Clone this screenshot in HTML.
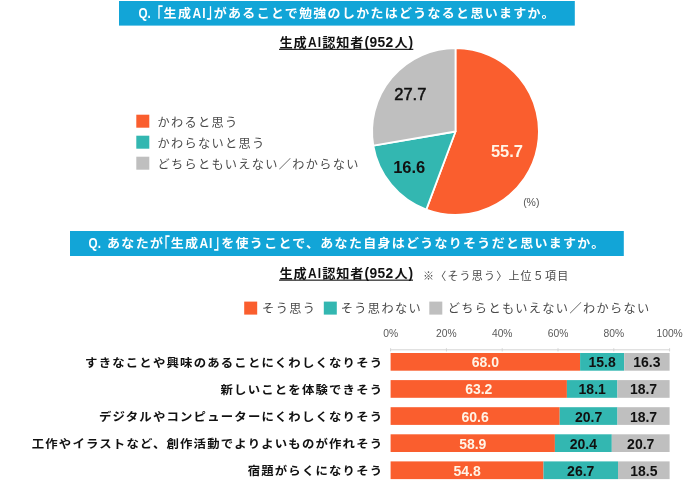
<!DOCTYPE html>
<html lang="ja"><head><meta charset="utf-8"><title>生成AIアンケート</title>
<style>html,body{margin:0;padding:0;background:#fff}body{width:700px;height:488px;overflow:hidden;position:relative}svg{display:block;position:absolute;left:0;top:0}text{font-family:"Liberation Sans","Noto Sans CJK JP",sans-serif;white-space:pre}.b{font-weight:700}.l{font-weight:300}.r{font-weight:400}.m{font-weight:500}.sk{stroke:#111;stroke-width:.25px}.sb{stroke:#111;stroke-width:.5px}</style></head><body>
<svg width="700" height="488" viewBox="0 0 700 488">
<rect x="119" y="1" width="455.8" height="24.6" fill="#12A5D7"/>
<g>
<text class="b" transform="translate(138.40,17.70) scale(0.78,0.99)" font-size="15" fill="#fff">Q.</text>
<text class="m" transform="translate(150.00,22.50) scale(1,1.55)" font-size="13.0" fill="#fff">「</text>
<text class="b" transform="translate(163.60,17.70) scale(1,0.95)" font-size="13.0" fill="#fff" letter-spacing="1.3">生成</text>
<text class="b" transform="translate(192.50,17.70) scale(0.8,0.99)" font-size="15" fill="#fff" letter-spacing="1.2">AI</text>
<text class="m" transform="translate(206.40,18.10) scale(1,1.55)" font-size="13.0" fill="#fff">」</text>
<text class="b" transform="translate(213.80,17.70) scale(1,0.95)" font-size="13.0" fill="#fff" letter-spacing="1.3">があることで勉強のしかたはどうなると思いますか。</text>
</g>
<g>
<text class="b" transform="translate(279.60,47.30) scale(1,0.95)" font-size="13.2" fill="#111" letter-spacing="0.8">生成</text>
<text class="b" transform="translate(307.90,47.30) scale(0.78,1)" font-size="15.3" fill="#111" letter-spacing="1.6">AI</text>
<text class="b" transform="translate(322.30,47.30) scale(1,0.95)" font-size="13.2" fill="#111" letter-spacing="0.8">認知者</text>
<text class="b" transform="translate(364.40,47.30) scale(0.92,0.97)" font-size="15" fill="#111" letter-spacing="0.45">(952</text>
<text class="b" transform="translate(394.50,47.30) scale(1,0.95)" font-size="13.2" fill="#111">人</text>
<text class="b" transform="translate(408.60,47.30) scale(0.92,0.97)" font-size="15" fill="#111">)</text>
</g>
<rect x="279" y="48.8" width="134.3" height="1.1" fill="#111"/>
<path d="M455.5,131.5 L455.50,48.10 A83.4,83.4 0 1 1 426.27,209.61 Z" fill="#FA5E2E" stroke="#fff" stroke-width="1.8" stroke-linejoin="round"/>
<path d="M455.5,131.5 L426.27,209.61 A83.4,83.4 0 0 1 373.30,145.58 Z" fill="#33B7B1" stroke="#fff" stroke-width="1.8" stroke-linejoin="round"/>
<path d="M455.5,131.5 L373.30,145.58 A83.4,83.4 0 0 1 455.50,48.10 Z" fill="#BFBFBF" stroke="#fff" stroke-width="1.8" stroke-linejoin="round"/>
<text class="b" transform="translate(507.00,157.30)" font-size="16.5" fill="#FFF4E6" text-anchor="middle">55.7</text>
<text class="b" transform="translate(409.20,172.60)" font-size="16.5" fill="#111" text-anchor="middle">16.6</text>
<text class="sb" transform="translate(410.30,100.00)" font-size="16.5" fill="#111" text-anchor="middle">27.7</text>
<text transform="translate(531.30,205.80)" font-size="10.5" fill="#555" text-anchor="middle">(%)</text>
<rect x="136.3" y="114.7" width="13" height="13" fill="#FA5E2E"/>
<text class="r" transform="translate(157.60,126.80)" font-size="12.2" fill="#4a4a4a" letter-spacing="1.3">かわると思う</text>
<rect x="136.3" y="135.7" width="13" height="13" fill="#33B7B1"/>
<text class="r" transform="translate(157.60,147.80)" font-size="12.2" fill="#4a4a4a" letter-spacing="1.3">かわらないと思う</text>
<rect x="136.3" y="156.7" width="13" height="13" fill="#BFBFBF"/>
<text class="r" transform="translate(157.60,168.80)" font-size="12.2" fill="#4a4a4a" letter-spacing="1.3">どちらともいえない／わからない</text>
<rect x="70" y="231" width="553.8" height="25" fill="#12A5D7"/>
<g>
<text class="b" transform="translate(88.60,248.10) scale(0.78,0.99)" font-size="15" fill="#fff">Q.</text>
<text class="b" transform="translate(106.90,248.10) scale(1,0.95)" font-size="13.0" fill="#fff" letter-spacing="1.4000000000000001">あなたが</text>
<text class="m" transform="translate(157.00,252.90) scale(1,1.55)" font-size="13.0" fill="#fff">「</text>
<text class="b" transform="translate(170.70,248.10) scale(1,0.95)" font-size="13.0" fill="#fff" letter-spacing="1.3">生成</text>
<text class="b" transform="translate(199.40,248.10) scale(0.8,0.99)" font-size="15" fill="#fff" letter-spacing="1.2">AI</text>
<text class="m" transform="translate(213.70,248.50) scale(1,1.55)" font-size="13.0" fill="#fff">」</text>
<text class="b" transform="translate(221.30,248.10) scale(1,0.95)" font-size="13.0" fill="#fff" letter-spacing="1.3">を使うことで、あなた自身はどうなりそうだと思いますか。</text>
</g>
<g>
<text class="b" transform="translate(279.60,278.10) scale(1,0.95)" font-size="13.2" fill="#111" letter-spacing="0.8">生成</text>
<text class="b" transform="translate(307.90,278.10) scale(0.78,1)" font-size="15.3" fill="#111" letter-spacing="1.6">AI</text>
<text class="b" transform="translate(322.30,278.10) scale(1,0.95)" font-size="13.2" fill="#111" letter-spacing="0.8">認知者</text>
<text class="b" transform="translate(364.40,278.10) scale(0.92,0.97)" font-size="15" fill="#111" letter-spacing="0.45">(952</text>
<text class="b" transform="translate(394.50,278.10) scale(1,0.95)" font-size="13.2" fill="#111">人</text>
<text class="b" transform="translate(408.60,278.10) scale(0.92,0.97)" font-size="15" fill="#111">)</text>
</g>
<rect x="279" y="279.6" width="134" height="1.1" fill="#111"/>
<text class="r" transform="translate(423.00,280.20)" font-size="11" fill="#4a4a4a" letter-spacing="1.2">※〈そう思う〉上位５項目</text>
<rect x="244.2" y="301.6" width="13" height="13" fill="#FA5E2E"/>
<text class="r" transform="translate(262.10,312.80)" font-size="12.2" fill="#4a4a4a" letter-spacing="1.35">そう思う</text>
<rect x="323.8" y="301.6" width="13" height="13" fill="#33B7B1"/>
<text class="r" transform="translate(340.80,312.80)" font-size="12.2" fill="#4a4a4a" letter-spacing="1.35">そう思わない</text>
<rect x="429.3" y="301.6" width="13" height="13" fill="#BFBFBF"/>
<text class="r" transform="translate(447.80,312.80)" font-size="12.2" fill="#4a4a4a" letter-spacing="1.35">どちらともいえない／わからない</text>
<text transform="translate(390.60,337.20)" font-size="10.3" fill="#595959" text-anchor="middle">0%</text>
<rect x="390.1" y="348.2" width="1" height="3.2" fill="#D4D4D4"/>
<text transform="translate(446.40,337.20)" font-size="10.3" fill="#595959" text-anchor="middle">20%</text>
<rect x="445.9" y="348.2" width="1" height="3.2" fill="#D4D4D4"/>
<text transform="translate(502.20,337.20)" font-size="10.3" fill="#595959" text-anchor="middle">40%</text>
<rect x="501.7" y="348.2" width="1" height="3.2" fill="#D4D4D4"/>
<text transform="translate(558.00,337.20)" font-size="10.3" fill="#595959" text-anchor="middle">60%</text>
<rect x="557.5" y="348.2" width="1" height="3.2" fill="#D4D4D4"/>
<text transform="translate(613.80,337.20)" font-size="10.3" fill="#595959" text-anchor="middle">80%</text>
<rect x="613.3" y="348.2" width="1" height="3.2" fill="#D4D4D4"/>
<text transform="translate(669.60,337.20)" font-size="10.3" fill="#595959" text-anchor="middle">100%</text>
<rect x="669.1" y="348.2" width="1" height="3.2" fill="#D4D4D4"/>
<rect x="390.6" y="349.3" width="279.0" height="1" fill="#D4D4D4"/>
<rect x="390.6" y="353.0" width="189.5" height="17.7" fill="#FA5E2E"/>
<rect x="580.1" y="353.0" width="44.0" height="17.7" fill="#33B7B1"/>
<rect x="624.2" y="353.0" width="45.4" height="17.7" fill="#BFBFBF"/>
<text class="b" transform="translate(485.37,367.30)" font-size="14" fill="#FFF4E6" text-anchor="middle">68.0</text>
<text class="b" transform="translate(602.15,367.30)" font-size="14" fill="#111" text-anchor="middle">15.8</text>
<text class="b" transform="translate(646.88,367.30)" font-size="14" fill="#111" text-anchor="middle">16.3</text>
<text class="b" transform="translate(383.30,366.70) scale(1,0.96)" font-size="12.4" fill="#111" text-anchor="end" letter-spacing="1.18">すきなことや興味のあることにくわしくなりそう</text>
<rect x="390.6" y="380.1" width="176.3" height="17.7" fill="#FA5E2E"/>
<rect x="566.9" y="380.1" width="50.5" height="17.7" fill="#33B7B1"/>
<rect x="617.4" y="380.1" width="52.2" height="17.7" fill="#BFBFBF"/>
<text class="b" transform="translate(478.76,394.40)" font-size="14" fill="#FFF4E6" text-anchor="middle">63.2</text>
<text class="b" transform="translate(592.18,394.40)" font-size="14" fill="#111" text-anchor="middle">18.1</text>
<text class="b" transform="translate(643.51,394.40)" font-size="14" fill="#111" text-anchor="middle">18.7</text>
<text class="b" transform="translate(383.30,393.80) scale(1,0.96)" font-size="12.4" fill="#111" text-anchor="end" letter-spacing="1.18">新しいことを体験できそう</text>
<rect x="390.6" y="407.2" width="169.1" height="17.7" fill="#FA5E2E"/>
<rect x="559.7" y="407.2" width="57.8" height="17.7" fill="#33B7B1"/>
<rect x="617.4" y="407.2" width="52.2" height="17.7" fill="#BFBFBF"/>
<text class="b" transform="translate(475.14,421.50)" font-size="14" fill="#FFF4E6" text-anchor="middle">60.6</text>
<text class="b" transform="translate(588.55,421.50)" font-size="14" fill="#111" text-anchor="middle">20.7</text>
<text class="b" transform="translate(643.51,421.50)" font-size="14" fill="#111" text-anchor="middle">18.7</text>
<text class="b" transform="translate(383.30,420.90) scale(1,0.96)" font-size="12.4" fill="#111" text-anchor="end" letter-spacing="1.18">デジタルやコンピューターにくわしくなりそう</text>
<rect x="390.6" y="434.3" width="164.3" height="17.7" fill="#FA5E2E"/>
<rect x="554.9" y="434.3" width="56.9" height="17.7" fill="#33B7B1"/>
<rect x="611.8" y="434.3" width="57.8" height="17.7" fill="#BFBFBF"/>
<text class="b" transform="translate(472.77,448.60)" font-size="14" fill="#FFF4E6" text-anchor="middle">58.9</text>
<text class="b" transform="translate(583.39,448.60)" font-size="14" fill="#111" text-anchor="middle">20.4</text>
<text class="b" transform="translate(640.72,448.60)" font-size="14" fill="#111" text-anchor="middle">20.7</text>
<text class="b" transform="translate(383.30,448.00) scale(1,0.96)" font-size="12.4" fill="#111" text-anchor="end" letter-spacing="1.18">工作やイラストなど、創作活動でよりよいものが作れそう</text>
<rect x="390.6" y="461.4" width="152.9" height="17.7" fill="#FA5E2E"/>
<rect x="543.5" y="461.4" width="74.5" height="17.7" fill="#33B7B1"/>
<rect x="618.0" y="461.4" width="51.6" height="17.7" fill="#BFBFBF"/>
<text class="b" transform="translate(467.05,475.70)" font-size="14" fill="#FFF4E6" text-anchor="middle">54.8</text>
<text class="b" transform="translate(580.74,475.70)" font-size="14" fill="#111" text-anchor="middle">26.7</text>
<text class="b" transform="translate(643.79,475.70)" font-size="14" fill="#111" text-anchor="middle">18.5</text>
<text class="b" transform="translate(383.30,475.10) scale(1,0.96)" font-size="12.4" fill="#111" text-anchor="end" letter-spacing="1.18">宿題がらくになりそう</text>
</svg></body></html>
